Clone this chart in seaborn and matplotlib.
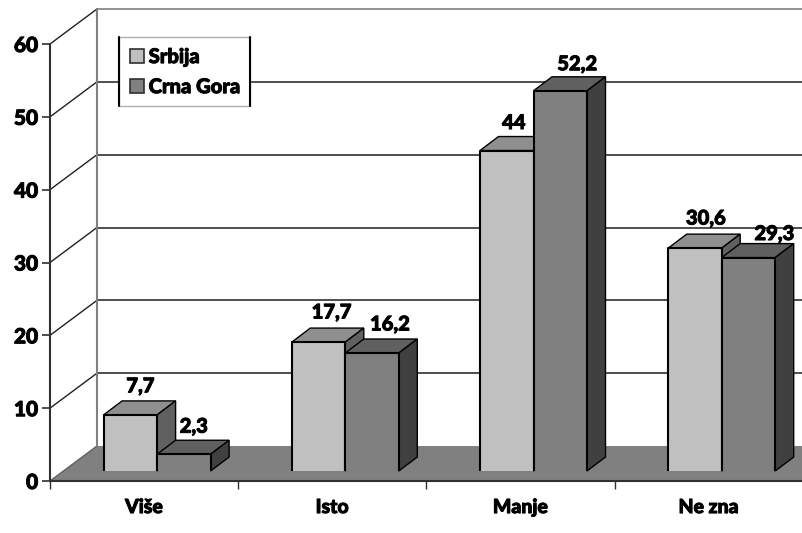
import numpy as np
import pandas as pd
import seaborn as sns
import matplotlib.pyplot as plt
import matplotlib.patheffects as pe
from matplotlib.lines import Line2D
from matplotlib.patches import Patch, Polygon
from matplotlib.transforms import Affine2D

categories = ['Više', 'Isto', 'Manje', 'Ne zna']
srbija = [7.7, 17.7, 44, 30.6]
crna_gora = [2.3, 16.2, 52.2, 29.3]
series_names = ['Srbija', 'Crna Gora']
y_ticks = [0, 10, 20, 30, 40, 50, 60]

# faces of the fake 3d bars
front_cols = ['#C0C0C0', '#808080']
top_cols = ['#8F8F8F', '#606060']
side_cols = ['#606060', '#404040']

# pixels per data unit, and the depth of things in pixels
PX_X = 188.2
PX_Y = 437 / 60
wall_dx, wall_dy = 47 / PX_X, 35 / PX_Y
bar_dx, bar_dy = 18.5 / PX_X, 14 / PX_Y
base_dx, base_dy = 13 / PX_X, 10 / PX_Y

# nudges of the value labels in pixels, the original has them placed by hand
label_dx = [[10, 10], [13, 18], [7, 17], [11, 26]]
label_dy = [[3, 2], [4, 3], [2, 1], [4, -2]]

sns.set_theme(style='white')
plt.rcParams['font.family'] = ['Lato', 'DejaVu Sans']

# installed bold is lighter than the original, thicken with a thin outline
heavy = [pe.withStroke(linewidth=0.7, foreground='black')]

df = pd.DataFrame({
    'cat': categories * 2,
    'series': [series_names[0]] * 4 + [series_names[1]] * 4,
    'value': srbija + crna_gora,
})

fig = plt.figure(figsize=(8.03, 5.33), dpi=100)
ax = fig.add_axes([50 / 803, (533 - 481) / 533, 752.8 / 803, 437 / 533])

sns.barplot(data=df, x='cat', y='value', hue='series', order=categories,
            hue_order=series_names, palette=front_cols, width=107 / 188.2,
            gap=0, saturation=1, legend=False, ax=ax, linewidth=0)

x0, x1 = -0.5, 3.5
ax.set_xlim(x0, x1)
ax.set_ylim(0, 60)
ax.set_xlabel('')
ax.set_ylabel('')

# floor and walls
ax.add_patch(Polygon([(x0, 0), (x0 + wall_dx, wall_dy), (x1 + wall_dx, wall_dy), (x1, 0)],
                     closed=True, fc='#808080', ec='none', clip_on=False, zorder=1))
for t in y_ticks[1:]:
    col = '#808080' if t == 60 else '#303030'
    ax.plot([x0, x0 + wall_dx], [t, t + wall_dy], color='#202020', lw=1, clip_on=False, zorder=1.5)
    ax.plot([x0 + wall_dx, x1 + wall_dx], [t + wall_dy, t + wall_dy], color=col, lw=1.2,
            clip_on=False, zorder=1.5)
ax.plot([x0 + wall_dx, x0 + wall_dx], [wall_dy, 60 + wall_dy], color='#808080', lw=1.5,
        clip_on=False, zorder=1.6)
ax.plot([x0, x0 + wall_dx], [0, wall_dy], color='#606060', lw=1, clip_on=False, zorder=1.5)

# bars are moved back from the front edge, side and top faces added per bar
shift = Affine2D().translate(base_dx, base_dy) + ax.transData
for s, cont in enumerate(ax.containers):
    for i, bar in enumerate(cont):
        z = 3 + i * 2 + s
        bar.set_transform(shift)
        bar.set_clip_on(False)
        bar.set_zorder(z + 0.2)
        l, r = bar.get_x(), bar.get_x() + bar.get_width()
        h = bar.get_height()
        top = [(l, h), (l + bar_dx, h + bar_dy), (r + bar_dx, h + bar_dy), (r, h)]
        side = [(r, 0), (r + bar_dx, bar_dy), (r + bar_dx, h + bar_dy), (r, h)]
        ax.add_patch(Polygon(top, closed=True, fc=top_cols[s], ec='black', lw=1,
                             transform=shift, clip_on=False, zorder=z))
        ax.add_patch(Polygon(side, closed=True, fc=side_cols[s], ec='black', lw=1,
                             transform=shift, clip_on=False, zorder=z))
        # no black line along the foot of the front face
        ax.plot([l, l, r, r], [0, h, h, 0], color='black', lw=1.5, transform=shift,
                clip_on=False, zorder=z + 0.3, solid_capstyle='butt')
        ax.annotate(f'{h:g}'.replace('.', ','), xy=((l + r) / 2 + base_dx, h + base_dy + bar_dy),
                    xytext=(label_dx[i][s] * 0.72, (12 + label_dy[i][s]) * 0.72), textcoords='offset points',
                    ha='center', va='center', fontsize=14.5, fontweight='black',
                    color='black', annotation_clip=False, zorder=20, path_effects=heavy)

# axis look
sns.despine(ax=ax, top=True, right=True)
for sp in ['left', 'bottom']:
    ax.spines[sp].set_color('#303030')
    ax.spines[sp].set_linewidth(1.5)
    ax.spines[sp].set_zorder(2)
ax.set_yticks(y_ticks)
ax.tick_params(axis='y', length=6, width=1.2, color='#303030', pad=2.5, labelsize=15, left=True)
ax.set_xticks(np.arange(x0, x1 + 1), minor=True)
ax.tick_params(axis='x', which='minor', length=6, width=1, color='#303030', bottom=True)
ax.tick_params(axis='x', which='major', length=0, pad=13, labelsize=14)
for lab in ax.get_xticklabels() + ax.get_yticklabels():
    lab.set_fontweight('black')
    lab.set_color('black')
    lab.set_path_effects(heavy)

handles = [Patch(fc=c, ec='#303030', lw=1.2, label=n) for c, n in zip(front_cols, series_names)]
leg = ax.legend(handles=handles, loc='upper left', bbox_to_anchor=(119.5 / 803, (533 - 37) / 533),
                bbox_transform=fig.transFigure, frameon=True, fancybox=False, framealpha=1,
                edgecolor='#B0B0B0', fontsize=14.5, handlelength=0.7, handleheight=0.7,
                handletextpad=0.25, labelspacing=0.55, borderpad=0.5, borderaxespad=0)
leg.set_zorder(25)
for txt in leg.get_texts():
    txt.set_fontweight('black')
    txt.set_color('black')
    txt.set_path_effects(heavy)

# legend box has heavy black sides only
fig.canvas.draw()
bb = leg.get_frame().get_window_extent()
for px in [bb.x0, bb.x1]:
    fig.add_artist(Line2D([px / 803, px / 803], [bb.y0 / 533, bb.y1 / 533], color='black', lw=1.5, zorder=30))

fig.savefig('out.png', dpi=100)
